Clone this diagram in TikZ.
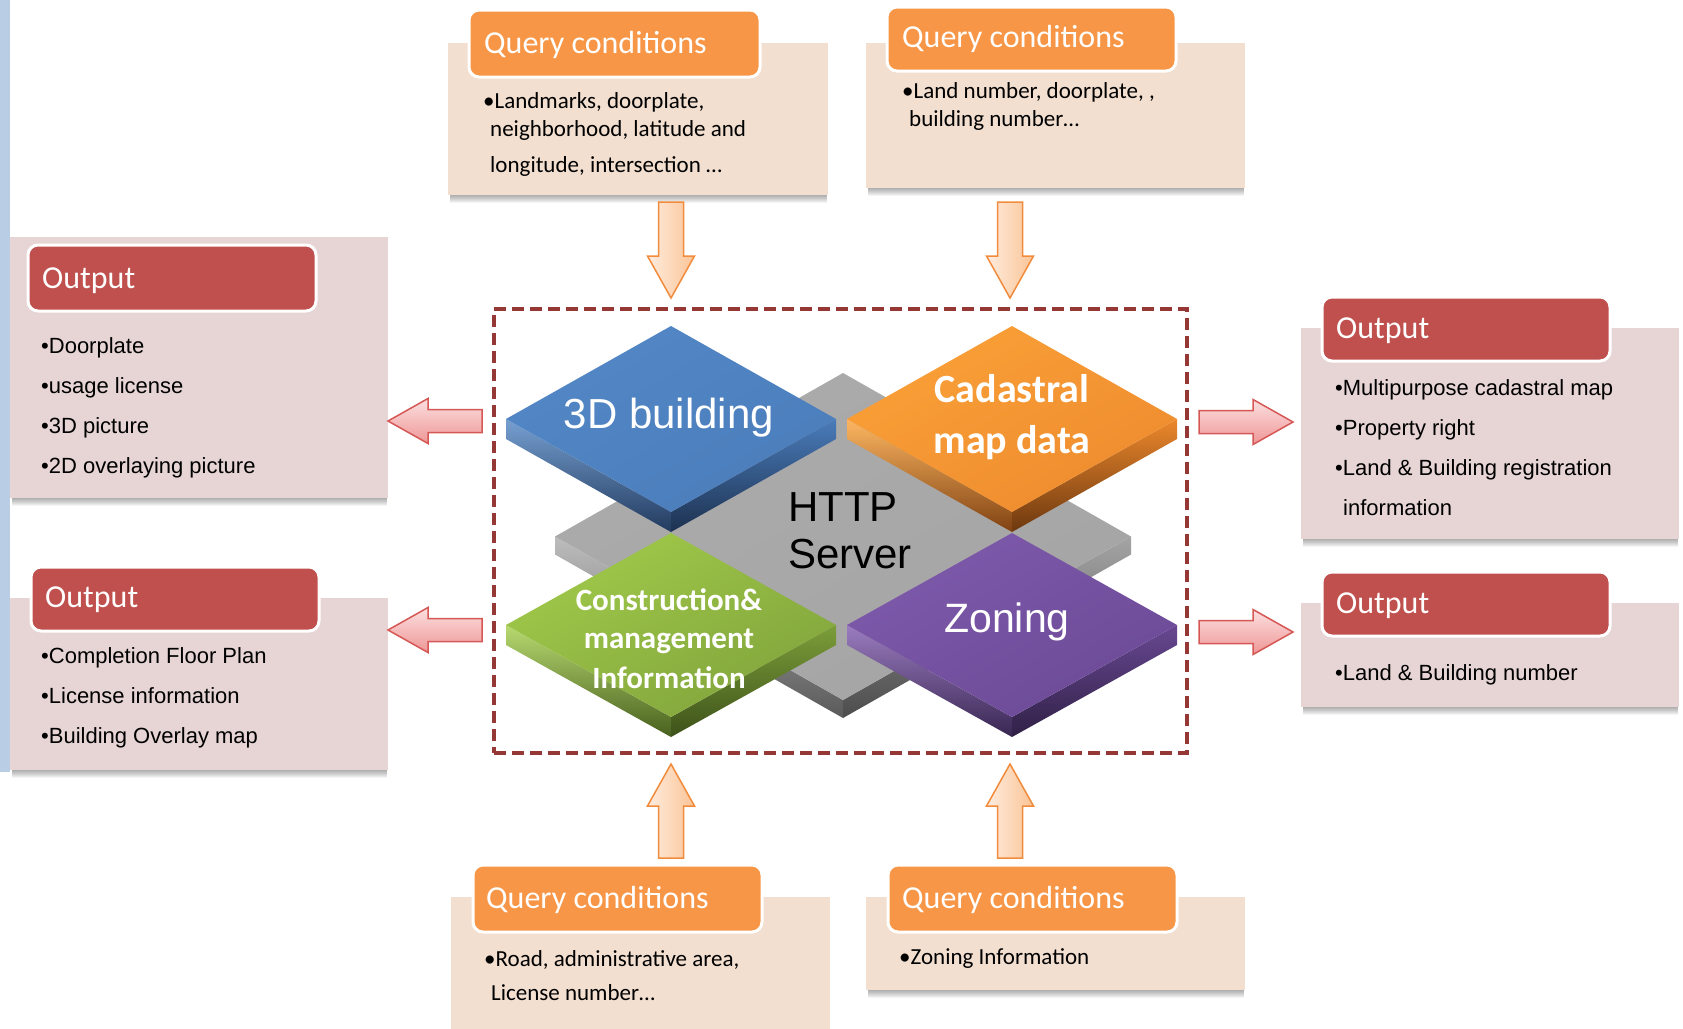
\documentclass[tikz,border=0pt]{standalone}
\usepackage{fontspec}
\setmainfont{Carlito}
\newfontfamily\arialfont{Liberation Sans}
\usetikzlibrary{shadings}

\definecolor{qcfill}{RGB}{242,223,208}
\definecolor{outfill}{RGB}{231,213,213}
\definecolor{qchead}{RGB}{247,150,70}
\definecolor{outhead}{RGB}{192,80,77}
\definecolor{dashcol}{RGB}{149,55,53}
\definecolor{strip}{RGB}{185,205,229}
\definecolor{peachA}{RGB}{254,236,222}
\definecolor{peachB}{RGB}{250,196,150}
\definecolor{peachLine}{RGB}{242,140,60}
\definecolor{pinkA}{RGB}{252,224,224}
\definecolor{pinkB}{RGB}{238,150,150}
\definecolor{pinkLine}{RGB}{214,88,86}
% tile colours: face light, face dark, side
\definecolor{blueA}{RGB}{84,136,198}\definecolor{blueB}{RGB}{74,124,186}\definecolor{blueS}{RGB}{34,58,94}
\definecolor{orA}{RGB}{252,164,58}\definecolor{orB}{RGB}{236,136,44}\definecolor{orS}{RGB}{128,66,18}
\definecolor{grA}{RGB}{166,208,76}\definecolor{grB}{RGB}{124,158,58}\definecolor{grS}{RGB}{72,96,30}
\definecolor{puA}{RGB}{130,92,176}\definecolor{puB}{RGB}{104,72,146}\definecolor{puS}{RGB}{56,38,82}
\definecolor{gyA}{RGB}{172,172,172}\definecolor{gyB}{RGB}{164,164,164}\definecolor{gyS}{RGB}{90,90,90}

\newcommand{\fsz}[1]{\fontsize{#1pt}{#1pt}\selectfont}

% bevelled diamond tile: cx, cy, half width, half height, thickness, face A, face B, side
\newcommand{\drawtile}[8]{%
\begin{scope}[shift={(#1,#2)}]
  \shade[top color=#6!80!white, bottom color=#8] (-#3,0) -- (0,#4) -- (0,#4+#5) -- (-#3,#5) -- cycle;
  \shade[top color=#7, bottom color=#8!85!black] (0,#4) -- (#3,0) -- (#3,#5) -- (0,#4+#5) -- cycle;
  \shade[upper left=#6, upper right=#6!50!#7, lower left=#6!50!#7, lower right=#7]
    (-#3,0) -- (0,-#4) -- (#3,0) -- (0,#4) -- cycle;
\end{scope}}

% text panel with a soft shadow along its lower edge: x1, y1, x2, y2, fill
\newcommand{\panel}[5]{%
  \foreach \k in {1,...,8}{\fill[black, opacity=0.045] (#1+2,#4) rectangle (#3-1,#4+\k);}
  \fill[#5] (#1,#2) rectangle (#3,#4);}

% block arrows given by tip point
\newcommand{\arrowleft}[2]{%
  \filldraw[pinkarrow] (#1,#2) -- (#1+40,#2-22.5) -- (#1+40,#2-11.5) -- (#1+94,#2-11.5)
    -- (#1+94,#2+11.5) -- (#1+40,#2+11.5) -- (#1+40,#2+22.5) -- cycle;}
\newcommand{\arrowright}[2]{%
  \filldraw[pinkarrow] (#1,#2) -- (#1-40,#2-22.5) -- (#1-40,#2-11.5) -- (#1-94,#2-11.5)
    -- (#1-94,#2+11.5) -- (#1-40,#2+11.5) -- (#1-40,#2+22.5) -- cycle;}
\newcommand{\arrowdown}[2]{%
  \filldraw[peacharrow] (#1,#2) -- (#1-23.5,#2-42) -- (#1-12.5,#2-42) -- (#1-12.5,#2-96)
    -- (#1+12.5,#2-96) -- (#1+12.5,#2-42) -- (#1+23.5,#2-42) -- cycle;}
\newcommand{\arrowup}[2]{%
  \filldraw[peacharrow] (#1,#2) -- (#1-23.5,#2+42) -- (#1-12.5,#2+42) -- (#1-12.5,#2+94)
    -- (#1+12.5,#2+94) -- (#1+12.5,#2+42) -- (#1+23.5,#2+42) -- cycle;}

\tikzset{
  qchdr/.style={fill=qchead, draw=white, line width=3pt, rounded corners=10pt},
  outhdr/.style={fill=outhead, draw=white, line width=3pt, rounded corners=10pt},
  lbl/.style={inner sep=0pt, anchor=base west},
  hdrtext/.style={lbl, text=white, font=\fsz{32}},
  qctext/.style={lbl, font=\fsz{23}},
  outtext/.style={lbl, font=\arialfont\fsz{22}},
  peacharrow/.style={left color=peachA, right color=peachB, draw=peachLine, line width=1.5pt},
  pinkarrow/.style={top color=pinkA, bottom color=pinkB, draw=pinkLine, line width=1.5pt},
}

\begin{document}
\begin{tikzpicture}[x=1pt,y=-1pt]
\useasboundingbox (0,0) rectangle (1683,1028);
\fill[white] (0,0) rectangle (1683,1028);
\fill[strip] (0,0) rectangle (10,772);

% ---------- central server block ----------
\node[draw=dashcol, line width=3.5pt, dash pattern=on 12pt off 6pt, minimum width=693pt,
      minimum height=444pt, inner sep=0pt] (server) at (840.5,531) {};

\drawtile{843}{536.5}{288}{163.5}{18}{gyA}{gyB}{gyS}
\drawtile{671}{419}{165}{93}{20}{blueA}{blueB}{blueS}
\drawtile{1012}{419}{165}{93}{20}{orA}{orB}{orS}
\drawtile{671}{625}{165}{92}{20}{grA}{grB}{grS}
\drawtile{1012}{625}{165}{92}{20}{puA}{puB}{puS}

\node[inner sep=0pt, anchor=base, text=white, font=\arialfont\fsz{42}] (bld) at (669,428) {3D building};
\node[inner sep=0pt, anchor=base, text=white, font=\bfseries\fsz{40}] (cad1) at (1012,402) {Cadastral};
\node[inner sep=0pt, anchor=base, text=white, font=\bfseries\fsz{40}] (cad2) at (1012,453) {map data};
\node[lbl, font=\arialfont\fsz{42}] (http1) at (788,521) {HTTP};
\node[lbl, font=\arialfont\fsz{42}] (http2) at (788,568) {Server};
\node[inner sep=0pt, anchor=base, text=white, font=\bfseries\fsz{31}] (con1) at (669,610) {Construction\&};
\node[inner sep=0pt, anchor=base, text=white, font=\bfseries\fsz{31}] (con2) at (669,648) {management};
\node[inner sep=0pt, anchor=base, text=white, font=\bfseries\fsz{31}] (con3) at (669,688) {Information};
\node[inner sep=0pt, anchor=base, text=white, font=\arialfont\fsz{41}] (zon) at (1007,632) {Zoning};

% ---------- query condition panels ----------
\panel{448}{43}{828}{195}{qcfill}
\draw[qchdr] (469,10) rectangle (760,77);
\node[hdrtext] (qc1h) at (484,53) {Query conditions};
\node[qctext] (qc1a) at (483,108) {•Landmarks, doorplate,};
\node[qctext] (qc1b) at (490,136) {neighborhood, latitude and};
\node[qctext] (qc1c) at (490,172) {longitude, intersection …};

\panel{866}{43}{1245}{188}{qcfill}
\draw[qchdr] (887,7) rectangle (1176,71);
\node[hdrtext] (qc2h) at (902,47) {Query conditions};
\node[qctext] (qc2a) at (902,98) {•Land number, doorplate, ,};
\node[qctext] (qc2b) at (909,126) {building number…};

\panel{451}{897}{830}{1045}{qcfill}
\draw[qchdr] (473,865) rectangle (762,932);
\node[hdrtext] (qc3h) at (486,908) {Query conditions};
\node[qctext] (qc3a) at (484,966) {•Road, administrative area,};
\node[qctext] (qc3b) at (491,1000) {License number…};

\panel{866}{897}{1245}{990}{qcfill}
\draw[qchdr] (888,865) rectangle (1177,932);
\node[hdrtext] (qc4h) at (902,908) {Query conditions};
\node[qctext] (qc4a) at (899,964) {•Zoning Information};

% ---------- output panels ----------
\panel{10}{237}{388}{498}{outfill}
\draw[outhdr] (28,245) rectangle (316,311);
\node[hdrtext] (lo1h) at (42,288) {Output};
\node[outtext] (lo1a) at (41,353) {•Doorplate};
\node[outtext] (lo1b) at (41,393) {•usage license};
\node[outtext] (lo1c) at (41,433) {•3D picture};
\node[outtext] (lo1d) at (41,473) {•2D overlaying picture};

\panel{10}{598}{388}{770}{outfill}
\draw[outhdr] (31,567) rectangle (319,631);
\node[hdrtext] (lo2h) at (45,607) {Output};
\node[outtext] (lo2a) at (41,663) {•Completion Floor Plan};
\node[outtext] (lo2b) at (41,703) {•License information};
\node[outtext] (lo2c) at (41,743) {•Building Overlay map};

\panel{1301}{328}{1679}{539}{outfill}
\draw[outhdr] (1322,297) rectangle (1610,361);
\node[hdrtext] (ro1h) at (1336,338) {Output};
\node[outtext] (ro1a) at (1335,395) {•Multipurpose cadastral map};
\node[outtext] (ro1b) at (1335,435) {•Property right};
\node[outtext] (ro1c) at (1335,475) {•Land \& Building registration};
\node[outtext] (ro1d) at (1343,515) {information};

\panel{1301}{603}{1679}{707}{outfill}
\draw[outhdr] (1322,572) rectangle (1610,636);
\node[hdrtext] (ro2h) at (1336,613) {Output};
\node[outtext] (ro2a) at (1335,680) {•Land \& Building number};

% ---------- flow arrows ----------
\arrowdown{671}{298}
\arrowdown{1010}{298}
\arrowup{671}{764}
\arrowup{1010}{764}
\arrowleft{388}{421}
\arrowleft{388}{630}
\arrowright{1293}{422}
\arrowright{1293}{632}
\end{tikzpicture}
\end{document}
